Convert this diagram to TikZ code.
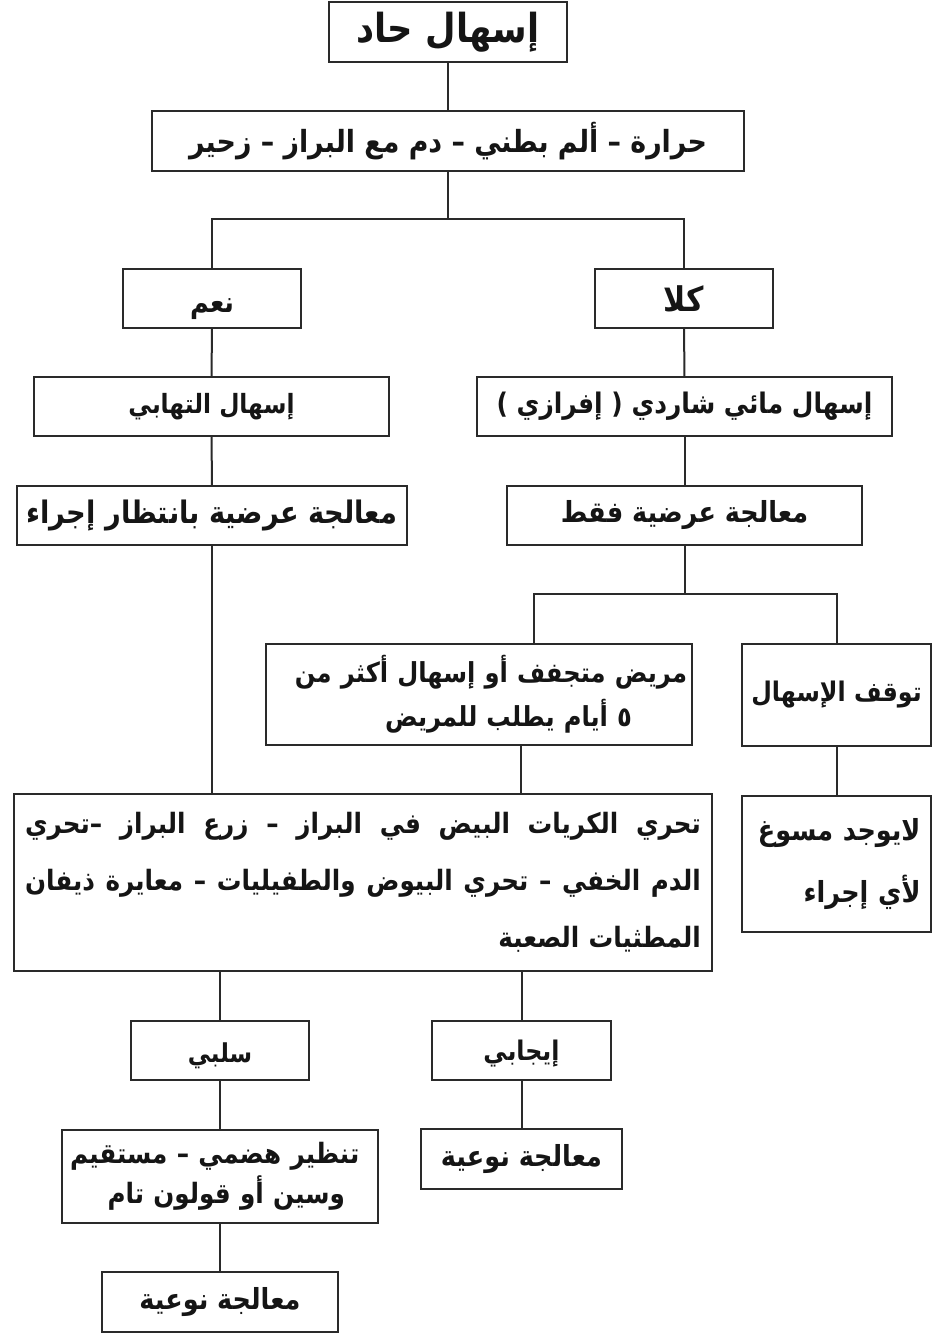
\documentclass[tikz,border=0pt]{standalone}
\usepackage{fontspec}
\newfontfamily\arabicfont[Script=Arabic, FakeStretch=0.88]{DejaVu Sans}
\TeXXeTstate=1
\newcommand{\AR}[1]{\mbox{\arabicfont\bfseries\beginR #1\endR}}
\definecolor{ln}{HTML}{2A2A2A}
\definecolor{tx}{HTML}{151515}
\tikzset{
  box/.style={draw=ln, line width=2.6pt, rectangle, inner sep=0pt, outer sep=0pt, text=tx,
    font=\fontsize{29}{34}\selectfont, align=center},
  conn/.style={draw=ln, line width=2pt},
}
\begin{document}
\begin{tikzpicture}[x=1pt,y=-1pt]
\useasboundingbox[fill=white] (0,0) rectangle (945,1335);
% boxes
\node[box, minimum width=238, minimum height=60, font=\fontsize{40}{44}\selectfont] (n1) at (448,32) {\AR{إسهال  حاد}};
\node[box, minimum width=592, minimum height=60, font=\fontsize{30.5}{34}\selectfont] (n2) at (448,141) {\AR{حرارة – ألم بطني – دم مع البراز – زحير}};
\node[box, minimum width=178, minimum height=59, text height=27pt, text depth=0pt] (n3) at (212,298.5) {\AR{نعم}};
\node[box, minimum width=178, minimum height=59, font=\fontsize{34}{38}\selectfont] (n4) at (684,298.5) {\AR{كلا}};
\node[box, minimum width=355, minimum height=59, font=\fontsize{26.5}{34}\selectfont] (n5) at (211.5,406.5) {\AR{إسهال التهابي}};
\node[box, minimum width=415, minimum height=59, font=\fontsize{28.3}{34}\selectfont] (n6) at (684.5,406.5) {\AR{إسهال مائي شاردي ( إفرازي )}};
\node[box, minimum width=390, minimum height=59, font=\fontsize{31}{34}\selectfont] (n7) at (212,515.5) {\AR{معالجة عرضية بانتظار إجراء}};
\node[box, minimum width=355, minimum height=59] (n8) at (684.5,515.5) {\AR{معالجة عرضية فقط}};
\node[box, minimum width=426, minimum height=101, align=right, text width=416,
  font=\fontsize{27.5}{44}\selectfont] (n9) at (479,694.5)
  {\AR{مريض متجفف أو إسهال أكثر من}\\\AR{٥ أيام يطلب للمريض}\rule{55pt}{0pt}};
\node[box, minimum width=189, minimum height=102, font=\fontsize{27}{34}\selectfont] (n10) at (836.5,695) {\AR{توقف الإسهال}};
\node[box, minimum width=698, minimum height=177, align=right, text width=676,
  font=\fontsize{28}{57}\selectfont] (n11) at (363,882.5)
  {\leavevmode\hbox to 676pt{\arabicfont\bfseries\beginR تحري\hfill{} الكريات\hfill{} البيض\hfill{} في\hfill{} البراز\hfill{} –\hfill{} زرع\hfill{} البراز\hfill{} –تحري\endR}\\\leavevmode\hbox to 676pt{\arabicfont\bfseries\beginR الدم\hfill{} الخفي\hfill{} –\hfill{} تحري\hfill{} البيوض\hfill{} والطفيليات\hfill{} –\hfill{} معايرة\hfill{} ذيفان\endR}\\\AR{المطثيات الصعبة}};
\node[box, minimum width=189, minimum height=136, align=right, text width=168,
  font=\fontsize{29}{62}\selectfont] (n12) at (836.5,864)
  {\AR{لايوجد مسوغ}\\\AR{لأي إجراء}};
\node[box, minimum width=178, minimum height=59, text height=23pt, text depth=0pt, font=\fontsize{26}{34}\selectfont] (n13) at (220,1050.5) {\AR{سلبي}};
\node[box, minimum width=179, minimum height=59, text height=19pt, text depth=0pt, font=\fontsize{27}{34}\selectfont] (n14) at (521.5,1050.5) {\AR{إيجابي}};
\node[box, minimum width=316, minimum height=93, align=right, text width=300,
  font=\fontsize{28}{40}\selectfont] (n15) at (220,1176.5)
  {\AR{تنظير هضمي – مستقيم}\rule{12pt}{0pt}\\\AR{وسين أو قولون تام}\rule{25pt}{0pt}};
\node[box, minimum width=201, minimum height=60] (n16) at (521.5,1159) {\AR{معالجة نوعية}};
\node[box, minimum width=236, minimum height=60] (n17) at (220,1302) {\AR{معالجة نوعية}};
% junction coordinates
\coordinate (j1) at (448,219);
\coordinate (j2) at (684.5,594);
\coordinate (c9t) at (534,594);
\coordinate (c9b) at (521,0);
% connectors
\draw[conn] (n1.south) -- (n2.north);
\draw[conn] (n2.south) -- (j1);
\draw[conn] (n3.north) |- (j1) -| (n4.north);
\draw[conn] (n3.south) -- (n5.north);
\draw[conn] (n5.south) -- (n7.north);
\draw[conn] (n7.south) -- (n7.south |- n11.north);
\draw[conn] (n4.south) -- (n6.north);
\draw[conn] (n6.south) -- (n8.north);
\draw[conn] (n8.south) -- (j2);
\draw[conn] (c9t |- n9.north) |- (j2) -| (n10.north);
\draw[conn] (c9b |- n9.south) -- (c9b |- n11.north);
\draw[conn] (n10.south) -- (n12.north);
\draw[conn] (n13.north |- n11.south) -- (n13.north);
\draw[conn] (n14.north |- n11.south) -- (n14.north);
\draw[conn] (n13.south) -- (n15.north);
\draw[conn] (n15.south) -- (n17.north);
\draw[conn] (n14.south) -- (n16.north);
\end{tikzpicture}
\end{document}
